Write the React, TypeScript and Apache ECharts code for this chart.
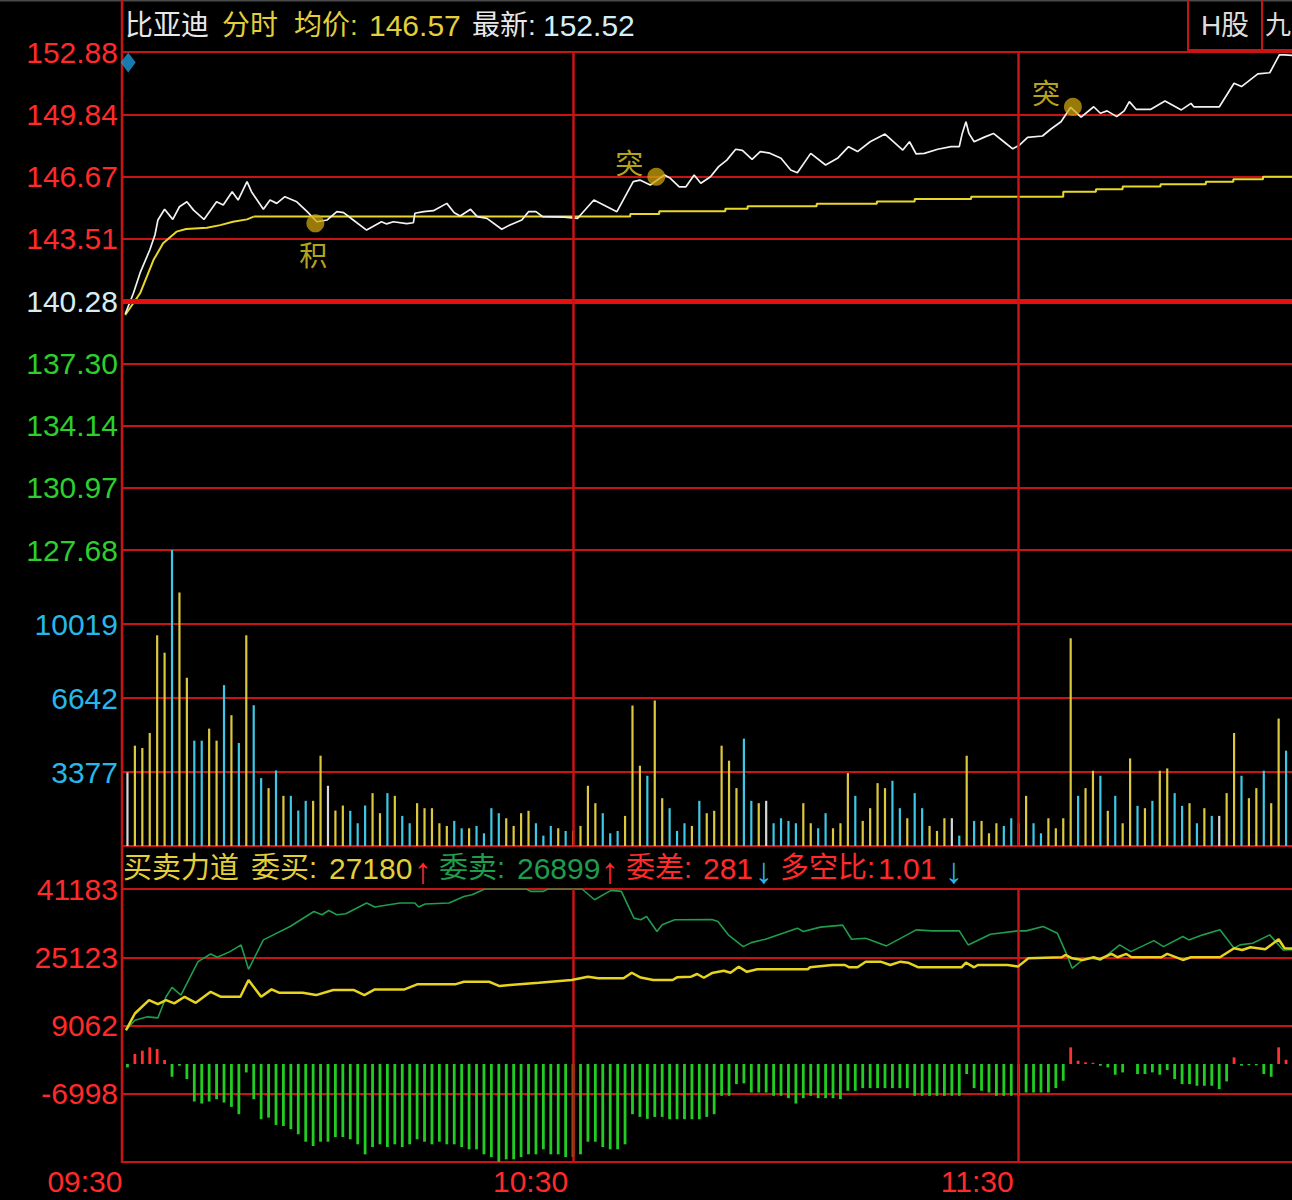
import React, { useEffect, useRef } from 'react';
import * as echarts from 'echarts';

// ---------------- data ----------------
const STOCK_NAME = '比亚迪';
const MODE_NAME = '分时';
const AVG_LABEL = '均价:';
const AVG_PRICE_NOW = '146.57';
const LAST_LABEL = '最新:';
const LAST_PRICE_NOW = '152.52';
const TAB_LABELS = ['H股', '九'];

const PREV_CLOSE = 140.28;
// price axis ticks, top -> bottom
const PRICE_TICKS = ['152.88', '149.84', '146.67', '143.51', '140.28', '137.30', '134.14', '130.97', '127.68'];
// volume axis ticks, bottom -> top
const VOLUME_TICKS = ['', '3377', '6642', '10019', ''];
const VOLUME_AXIS_MAX = 13364;
// order force axis ticks, bottom -> top
const FORCE_TICKS = ['', '-6998', '9062', '25123', '41183'];
const FORCE_AXIS_MIN = -23058;
const FORCE_AXIS_MAX = 41183;

// minutes after 09:30
const TIME_TICKS = [0, 60, 120];
const TIME_LABELS = ['09:30', '10:30', '11:30'];
const X_MIN = -0.6;
const X_MAX = 156.8;

const PRICE_TIME = [
  -0.3, 0.8, 1.7, 3.0, 3.7, 4.1, 5.0, 6.1, 7.0, 8.0,
  8.9, 10.3, 12.0, 12.9, 14.1, 14.9, 16.1, 16.7, 18.3, 19.2,
  20.1, 21.2, 22.8, 24.2, 25.5, 26.9, 28.2, 29.1, 30.4, 32.2,
  34.2, 34.9, 35.8, 37.6, 38.5, 38.7, 39.9, 41.2, 43.0, 44.0,
  44.8, 46.2, 47.1, 48.4, 50.4, 51.5, 53.1, 54.0, 55.0, 55.9,
  58.8, 60.6, 61.0, 62.8, 65.9, 68.1, 69.0, 70.4, 72.3, 73.1,
  74.3, 75.2, 76.3, 77.2, 78.5, 79.6, 80.7, 81.9, 82.8, 84.1,
  85.2, 86.5, 88.0, 89.3, 90.2, 92.0, 94.0, 95.6, 97.1, 98.3,
  100.0, 102.0, 104.4, 105.3, 106.2, 107.3, 109.1, 110.9, 112.0, 112.4,
  112.9, 113.3, 114.0, 115.3, 116.6, 118.0, 119.2, 120.1, 121.2, 123.2,
  124.3, 125.7, 127.0, 128.4, 130.1, 131.0, 131.9, 133.2, 134.2, 134.9,
  135.8, 137.8, 139.7, 141.9, 143.2, 143.6, 147.0, 149.0, 150.0, 152.2,
  153.8, 155.1, 155.8, 157.2,
];
const PRICE = [
  139.62, 140.67, 141.70, 142.86, 143.62, 144.38, 144.92, 144.41, 145.05, 145.30,
  144.88, 144.41, 145.30, 145.14, 145.81, 145.39, 146.32, 145.81, 144.92, 145.39,
  145.22, 145.56, 145.30, 144.80, 144.29, 144.38, 144.80, 144.75, 144.38, 143.87,
  144.29, 144.18, 144.29, 144.20, 144.24, 144.72, 144.80, 144.85, 145.22, 144.75,
  144.58, 144.92, 144.55, 144.46, 143.91, 144.13, 144.38, 144.80, 144.80, 144.55,
  144.52, 144.46, 144.63, 145.39, 144.80, 146.32, 146.40, 146.15, 146.66, 146.49,
  146.06, 146.06, 146.66, 146.24, 146.57, 147.08, 147.41, 147.96, 147.90, 147.45,
  147.84, 147.76, 147.50, 146.91, 146.77, 147.75, 147.16, 147.50, 148.09, 147.84,
  148.34, 148.73, 147.92, 148.34, 147.72, 147.75, 147.96, 148.09, 148.09, 148.76,
  149.35, 148.76, 148.34, 148.56, 148.76, 148.34, 147.98, 148.17, 148.56, 148.63,
  148.97, 149.35, 150.08, 149.58, 150.11, 149.78, 149.90, 149.61, 149.90, 150.37,
  149.98, 149.98, 150.40, 149.95, 150.28, 150.10, 150.10, 151.30, 151.13, 151.77,
  151.83, 152.73, 152.73, 152.70,
];

const AVG_RISE_TIME = [-0.3, 1.7, 3.5, 4.8, 6.6, 7.9, 10.7, 12.5, 14.2, 16.1, 17.0];
const AVG_RISE = [139.57, 140.67, 142.35, 143.20, 143.79, 143.92, 143.99, 144.12, 144.29, 144.41, 144.55];
const AVG_STEP_TIME = [17.0, 67.7, 71.6, 80.5, 83.5, 92.8, 100.9, 106.0, 113.6, 126.0, 130.4, 134.0, 139.1, 145.2, 148.9, 152.9, 157.2];
const AVG_STEP = [144.55, 144.68, 144.82, 144.95, 145.07, 145.20, 145.32, 145.44, 145.56, 145.81, 145.94, 146.07, 146.19, 146.32, 146.44, 146.57, 146.57];

// signals on the price line
const SIGNAL_TIME = [25.3, 71.2, 127.3];
const SIGNAL_PRICE = [144.21, 146.57, 150.11];
const SIGNAL_NAME = ['积', '突', '突'];
const OPEN_MARK_TIME = 0.1;
const OPEN_MARK_PRICE = 152.35;

// one volume bar per minute slot
const VOLUME = [
  3320, 4530, 4425, 5104, 9513, 8728, 13364, 11446, 7595, 4757,
  4757, 5300, 4757, 7263, 5904, 4651, 9513, 6357, 3065, 2612,
  3412, 2265, 2265, 1601, 2039, 2039, 4077, 2718, 1601, 1827,
  1590, 1027, 1827, 2386, 1480, 2386, 2265, 1359, 1027, 1933,
  1707, 1707, 1027, 906, 1133, 800, 800, 906, 574, 1707,
  1480, 1253, 906, 1480, 1590, 1027, 468, 906, 800, 680,
  680, 906, 2718, 1933, 1480, 574, 680, 1359, 6342, 3624,
  3171, 6569, 2159, 1707, 680, 1027, 906, 2039, 1480, 1590,
  4530, 3851, 2612, 4847, 2039, 1933, 2039, 1027, 1253, 1133,
  1027, 1933, 1027, 800, 1480, 800, 1027, 3292, 2265, 1133,
  1707, 2838, 2612, 2945, 1707, 1253, 2386, 1707, 906, 680,
  1253, 1253, 468, 4077, 1133, 1133, 574, 1027, 906, 1253,
  1027, 2265, 1027, 574, 1253, 800, 1253, 9377, 2265, 2612,
  3398, 3171, 1590, 2265, 1027, 3956, 1812, 1707, 2039, 3398,
  3503, 2386, 1812, 1933, 1027, 1707, 1359, 1359, 2386, 5104,
  3171, 2159, 2612, 3398, 1933, 5753, 4304,
];
// 1 = price up (yellow), -1 = down (cyan), 0 = flat (white)
const VOLUME_DIR = [
  0, 1, 1, 1, 1, 1, -1, 1, 1, -1,
  -1, 1, 1, -1, 1, -1, 1, -1, -1, 1,
  -1, 1, -1, -1, -1, 1, 1, 0, 1, 1,
  -1, -1, -1, 1, 1, -1, 1, -1, -1, 1,
  1, 1, 1, 1, -1, -1, 1, -1, -1, -1,
  -1, 1, 1, 1, 1, -1, -1, -1, 1, -1,
  1, 1, 1, 1, -1, -1, -1, 1, 1, 1,
  -1, 1, 1, -1, -1, -1, 1, -1, 1, 1,
  1, 1, 1, -1, -1, 1, 0, -1, -1, -1,
  -1, 1, 1, -1, -1, 1, 1, 1, -1, 1,
  1, 1, 1, -1, -1, 1, -1, -1, 1, 1,
  1, 0, -1, 1, -1, 1, 1, 1, -1, -1,
  1, 1, -1, -1, 1, 1, 1, 1, -1, 1,
  1, -1, 1, -1, 1, 1, -1, 1, -1, 1,
  1, -1, -1, 1, -1, 1, -1, 0, 1, 1,
  -1, 1, 1, -1, 1, 1, -1,
];

// 买卖力道
const BUY_NOW = '27180';
const SELL_NOW = '26899';
const DIFF_NOW = '281';
const RATIO_NOW = '1.01';

const BUY_TIME = [
  -0.2, 1.0, 2.9, 4.1, 5.2, 6.3, 7.7, 9.2, 11.2, 12.6,
  15.2, 16.3, 18.0, 19.4, 20.4, 23.6, 25.4, 27.7, 30.5, 31.9,
  33.3, 37.3, 39.0, 44.1, 45.3, 48.7, 50.1, 51.5, 55.4, 59.8,
  62.0, 63.4, 66.8, 67.9, 69.1, 70.8, 73.4, 74.0, 75.9, 76.7,
  77.6, 78.7, 80.3, 81.2, 82.3, 83.4, 84.8, 91.6, 91.9, 94.9,
  96.6, 97.2, 98.3, 99.4, 101.4, 102.7, 104.1, 105.1, 106.5, 112.3,
  112.9, 114.0, 114.5, 118.5, 119.9, 121.3, 125.8, 126.3, 127.2, 128.6,
  130.1, 130.9, 132.5, 133.3, 134.5, 135.2, 139.2, 140.0, 142.1, 143.2,
  147.1, 149.0, 150.1, 151.2, 153.2, 155.0, 155.8, 157.2,
];
const BUY_ORDERS = [
  7950, 11893, 15036, 14090, 15036, 14270, 15817, 14400, 17000, 15817,
  15817, 19760, 15817, 17563, 16780, 16780, 16217, 17400, 17400, 16217,
  17563, 17563, 18740, 18740, 19360, 19360, 18340, 18580, 19100, 19760,
  20540, 20160, 20160, 21480, 20350, 19760, 19760, 20400, 20540, 21180,
  20300, 21400, 21960, 21480, 22900, 21690, 22290, 22290, 22760, 23300,
  23300, 22760, 22760, 24083, 24083, 23300, 24083, 23840, 22760, 22760,
  23840, 22760, 23300, 23300, 22920, 24883, 25120, 25660, 24880, 24490,
  25120, 24650, 25900, 25120, 25900, 25120, 25120, 25900, 24490, 25120,
  25120, 27250, 26840, 27480, 27000, 29370, 27250, 27180,
];
const SELL_TIME = [
  -0.2, 1.0, 2.7, 4.1, 5.2, 6.0, 7.2, 9.5, 11.2, 12.1,
  13.8, 15.3, 16.3, 18.3, 21.9, 25.1, 26.2, 27.1, 28.2, 29.4,
  32.2, 33.3, 36.7, 38.7, 39.2, 40.1, 43.3, 45.3, 46.4, 48.1,
  53.7, 54.3, 56.0, 56.6, 61.2, 62.9, 65.1, 66.5, 68.2, 69.1,
  69.9, 71.3, 72.0, 73.7, 78.7, 79.5, 80.9, 82.9, 84.0, 85.9,
  90.2, 91.0, 93.3, 96.3, 97.5, 99.4, 102.2, 106.2, 108.4, 112.0,
  113.2, 116.2, 119.9, 121.0, 123.3, 125.2, 126.3, 127.2, 128.6, 129.7,
  131.1, 133.6, 135.1, 138.2, 139.5, 142.1, 142.9, 144.8, 147.1, 149.0,
  149.8, 151.5, 153.8, 155.6, 157.2,
];
const SELL_ORDERS = [
  7950, 10312, 11100, 10860, 15817, 18036, 16217, 24083, 25900, 25120,
  26445, 28025, 22286, 29208, 32350, 35892, 35113, 36128, 35113, 35349,
  37876, 36931, 37876, 37876, 36931, 37640, 37876, 39435, 39829, 41183,
  41183, 40630, 40630, 41183, 41183, 38655, 40853, 40630, 34333, 33940,
  34726, 31170, 32750, 33931, 34000, 33530, 30390, 27630, 28570, 29370,
  31970, 31170, 32208, 32680, 29370, 29605, 27790, 31570, 31330, 31330,
  28025, 30550, 31330, 31330, 32350, 30790, 26445, 22523, 24490, 24880,
  24490, 28025, 26445, 29040, 27630, 29990, 29200, 30390, 31570, 27250,
  28025, 28400, 30390, 26840, 26899,
];
// 委差 per minute slot
const ORDER_DIFF = [
  -800, 2362, 3141, 3921, 3540, 945, -3000, -400, -3543, -8830,
  -9306, -8830, -8267, -9070, -10086, -11810, -1984, -8267, -12990, -12613,
  -14337, -14573, -15353, -16534, -18282, -19297, -18282, -18282, -17172, -17172,
  -17715, -18900, -21258, -19534, -18900, -19534, -18900, -19534, -18900, -17715,
  -18282, -18900, -18282, -18900, -18900, -19534, -20077, -20077, -21258, -21895,
  -23006, -22439, -22439, -21895, -21258, -21258, -20077, -21258, -21258, -21895,
  -21895, -21258, -18282, -18282, -19534, -20077, -20077, -18900, -11810, -12448,
  -12900, -12448, -12448, -12990, -12990, -12990, -12990, -12990, -12448, -11810,
  -7490, -7490, -4724, -4567, -6708, -6708, -6708, -7490, -7490, -8030,
  -9306, -8030, -7490, -8030, -8030, -8030, -8267, -6306, -6306, -5670,
  -5670, -5670, -5670, -5670, -5670, -5670, -7490, -7490, -7490, -7490,
  -7490, -7490, -7490, -2362, -5670, -6306, -6708, -7490, -7490, -7490,
  -7490, -6708, -6708, -6708, -6708, -5670, -3945, 3921, 780, 400,
  300, -400, -800, -2530, -1980, 0, -2362, -2362, -1980, -2530,
  -1417, -3543, -4724, -4724, -5120, -5120, -5120, -5905, -4100, 1560,
  -400, -300, -300, -2362, -3000, 3921, 1000,
];

// ---------------- styles ----------------
const FONT = '"Liberation Sans", "Noto Sans CJK SC", sans-serif';
const CJK = '"Noto Sans CJK SC", "Liberation Sans", sans-serif';
const GRID_RED = '#c81414';
const RED = '#ff2a2a';
const YELLOW = '#e2cf3a';
const WHITE = '#e8e8e8';
const CYAN = '#26b8ea';
const GREEN_TXT = '#1f9c4c';
const DIR_COLOR: Record<string, string> = { '1': '#dcc83c', '-1': '#3cc8e6', '0': '#d8d8d8' };
const SIGNAL_OFFSET: Record<string, number[]> = { '积': [-2, 31], '突': [-27, -15] };

const pair = (xs: number[], ys: number[]) => xs.map((x, i) => [x, ys[i]]);

function vLines() {
  return {
    silent: true,
    symbol: ['none', 'none'],
    label: { show: false },
    animation: false,
    data: TIME_TICKS.filter((t) => t > 0).map((t) => ({
      xAxis: t,
      lineStyle: { color: GRID_RED, width: 2.5, type: 'solid' },
    })),
  };
}

export default function App() {
  const ref = useRef<HTMLDivElement>(null);

  useEffect(() => {
    if (!ref.current) return;
    const chart = echarts.init(ref.current, null, { renderer: 'svg' });

    const xAxis = (gridIndex: number, labels: boolean) => ({
      type: 'value',
      gridIndex,
      min: X_MIN,
      max: X_MAX,
      axisLine: { show: false },
      axisTick: { show: false },
      splitLine: { show: false },
      axisLabel: labels
        ? {
            show: true,
            customValues: TIME_TICKS,
            formatter: (v: number) => {
              const i = TIME_TICKS.indexOf(Math.round(Number(v)));
              return i >= 0 ? TIME_LABELS[i] : '';
            },
            color: RED,
            fontSize: 30,
            fontFamily: FONT,
            align: 'right',
            margin: 4,
            padding: [0, 5, 0, 0],
          }
        : { show: false },
    });

    const indexAxis = (gridIndex: number, n: number, formatter: any, color: any) => ({
      type: 'value',
      gridIndex,
      position: 'left',
      min: 0,
      max: n,
      interval: 1,
      axisLine: { show: false },
      axisTick: { show: false },
      axisLabel: { show: true, formatter, color, fontSize: 30, fontFamily: FONT, margin: 5 },
      splitLine: { show: true, lineStyle: { color: GRID_RED, width: 2 } },
    });
    const dataAxis = (gridIndex: number, min: number, max: number) => ({
      type: 'value',
      gridIndex,
      position: 'right',
      min,
      max,
      show: false,
      splitLine: { show: false },
    });

    const nP = PRICE_TICKS.length - 1;
    const priceLabelColor = (v: any) => {
      const p = Number(PRICE_TICKS[nP - Math.round(Number(v))]);
      if (Math.abs(p - PREV_CLOSE) < 1e-6) return '#d8ecf4';
      return p > PREV_CLOSE ? RED : '#2ccf2c';
    };

    const txt = (text: string, x: number, y: number, fill: string, size = 29, align = 'left', family = FONT) => ({
      type: 'text',
      x,
      y,
      silent: true,
      z: 20,
      style: { text, fill, fontSize: size, fontFamily: family, align, verticalAlign: 'middle' },
    });

    const option: any = {
      animation: false,
      backgroundColor: '#000000',
      grid: [
        { left: 123, right: 0, top: 52, height: 498 },
        { left: 123, right: 0, top: 550, height: 296 },
        { left: 123, right: 0, top: 889, height: 273 },
      ],
      xAxis: [xAxis(0, false), xAxis(1, false), xAxis(2, true)],
      yAxis: [
        dataAxis(0, Number(PRICE_TICKS[nP]), Number(PRICE_TICKS[0])),
        indexAxis(0, nP, (v: number) => PRICE_TICKS[nP - Math.round(v)], priceLabelColor),
        dataAxis(1, 0, VOLUME_AXIS_MAX),
        indexAxis(1, VOLUME_TICKS.length - 1, (v: number) => VOLUME_TICKS[Math.round(v)], CYAN),
        dataAxis(2, FORCE_AXIS_MIN, FORCE_AXIS_MAX),
        indexAxis(2, FORCE_TICKS.length - 1, (v: number) => FORCE_TICKS[Math.round(v)], RED),
      ],
      series: [
        {
          name: 'avgRise',
          type: 'line',
          xAxisIndex: 0,
          yAxisIndex: 0,
          data: pair(AVG_RISE_TIME, AVG_RISE),
          showSymbol: false,
          lineStyle: { color: '#e8d82a', width: 2 },
          z: 3,
        },
        {
          name: 'avgStep',
          type: 'line',
          xAxisIndex: 0,
          yAxisIndex: 0,
          step: 'end',
          data: pair(AVG_STEP_TIME, AVG_STEP),
          showSymbol: false,
          lineStyle: { color: '#e8d82a', width: 2 },
          z: 3,
        },
        {
          name: 'price',
          type: 'line',
          xAxisIndex: 0,
          yAxisIndex: 0,
          data: pair(PRICE_TIME, PRICE),
          showSymbol: false,
          lineStyle: { color: '#f2f2f2', width: 1.7 },
          z: 4,
          markLine: {
            silent: true,
            symbol: ['none', 'none'],
            label: { show: false },
            animation: false,
            data: [
              { yAxis: PREV_CLOSE, lineStyle: { color: '#e41010', width: 5, type: 'solid' } },
              ...TIME_TICKS.filter((t) => t > 0).map((t) => ({
                xAxis: t,
                lineStyle: { color: GRID_RED, width: 2.5, type: 'solid' },
              })),
            ],
          },
        },
        {
          name: 'signals',
          type: 'scatter',
          xAxisIndex: 0,
          yAxisIndex: 0,
          symbol: 'circle',
          symbolSize: 18,
          itemStyle: { color: 'rgba(206,166,12,0.92)' },
          z: 6,
          data: SIGNAL_TIME.map((t, i) => ({
            value: [t, SIGNAL_PRICE[i]],
            name: SIGNAL_NAME[i],
            label: { offset: SIGNAL_OFFSET[SIGNAL_NAME[i]] },
          })),
          label: {
            show: true,
            position: 'inside',
            formatter: '{b}',
            color: '#e6d22a',
            fontSize: 28,
            fontFamily: CJK,
          },
        },
        {
          name: 'openMark',
          type: 'scatter',
          xAxisIndex: 0,
          yAxisIndex: 0,
          symbol: 'diamond',
          symbolSize: [15, 20],
          clip: false,
          itemStyle: { color: '#1e9ad8' },
          z: 8,
          data: [[OPEN_MARK_TIME, OPEN_MARK_PRICE]],
        },
        {
          name: 'volume',
          type: 'bar',
          xAxisIndex: 1,
          yAxisIndex: 2,
          barWidth: 2.2,
          data: VOLUME.map((v, k) => ({
            value: [k, v],
            itemStyle: { color: DIR_COLOR[String(VOLUME_DIR[k])] },
          })),
          markLine: vLines(),
        },
        {
          name: 'orderDiff',
          type: 'bar',
          xAxisIndex: 2,
          yAxisIndex: 4,
          barWidth: 2.8,
          data: ORDER_DIFF.map((v, k) => ({
            value: [k, v],
            itemStyle: { color: v >= 0 ? '#ff3030' : '#22cc22' },
          })),
          markLine: vLines(),
        },
        {
          name: 'sell',
          type: 'line',
          xAxisIndex: 2,
          yAxisIndex: 4,
          data: pair(SELL_TIME, SELL_ORDERS),
          showSymbol: false,
          lineStyle: { color: '#1f9c4c', width: 1.6 },
          z: 4,
        },
        {
          name: 'buy',
          type: 'line',
          xAxisIndex: 2,
          yAxisIndex: 4,
          data: pair(BUY_TIME, BUY_ORDERS),
          showSymbol: false,
          lineStyle: { color: '#e6d41e', width: 2.5 },
          z: 5,
        },
      ],
      graphic: [
        { type: 'line', silent: true, z: 1, shape: { x1: 0, y1: 0.5, x2: 1292, y2: 0.5 }, style: { stroke: '#4a4a4a', lineWidth: 2 } },
        { type: 'line', silent: true, z: 1, shape: { x1: 122, y1: 0, x2: 122, y2: 1163 }, style: { stroke: GRID_RED, lineWidth: 2.5 } },
        { type: 'rect', silent: true, z: 1, shape: { x: 1188, y: -2, width: 74, height: 52 }, style: { fill: 'none', stroke: GRID_RED, lineWidth: 2 } },
        { type: 'rect', silent: true, z: 1, shape: { x: 1262, y: -2, width: 40, height: 52 }, style: { fill: 'none', stroke: GRID_RED, lineWidth: 2 } },
        txt(TAB_LABELS[0], 1225, 25, '#dcdcdc', 28, 'center'),
        txt(TAB_LABELS[1], 1265, 25, '#dcdcdc', 26, 'left'),
        // title row
        txt(STOCK_NAME, 125, 25, WHITE, 28),
        txt(MODE_NAME, 222, 25, YELLOW, 28),
        txt(AVG_LABEL, 294, 25, YELLOW, 28),
        txt(AVG_PRICE_NOW, 369, 25, YELLOW, 30),
        txt(LAST_LABEL, 472, 25, WHITE, 28),
        txt(LAST_PRICE_NOW, 543, 25, '#d4eef8', 30),
        // order force row
        txt('买卖力道', 123, 868, YELLOW, 29),
        txt('委买:', 251, 868, YELLOW, 29),
        txt(BUY_NOW, 329, 868, YELLOW, 30),
        txt('↑', 423, 870, RED, 36, 'center'),
        txt('委卖:', 439, 868, GREEN_TXT, 29),
        txt(SELL_NOW, 517, 868, GREEN_TXT, 30),
        txt('↑', 610, 870, RED, 36, 'center'),
        txt('委差:', 626, 868, RED, 29),
        txt(DIFF_NOW, 703, 868, RED, 30),
        txt('↓', 764, 870, CYAN, 36, 'center'),
        txt('多空比:', 780, 868, RED, 29),
        txt(RATIO_NOW, 878, 868, RED, 30),
        txt('↓', 954, 870, CYAN, 36, 'center'),
      ],
    };

    chart.setOption(option);
    return () => chart.dispose();
  }, []);

  return (
    <div
      ref={ref}
      style={{ position: 'absolute', left: 0, top: 0, width: 1292, height: 1200, background: '#000' }}
    />
  );
}
